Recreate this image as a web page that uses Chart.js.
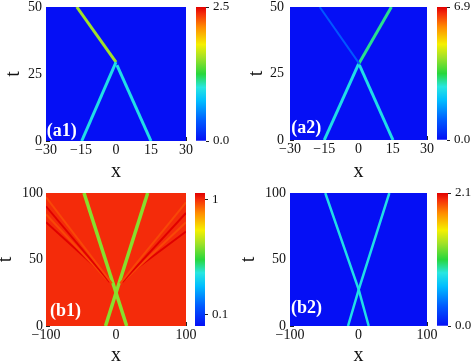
<!DOCTYPE html>
<html>
<head>
<meta charset="utf-8">
<script src="https://cdn.jsdelivr.net/npm/chart.js@4/dist/chart.umd.min.js"></script>
<style>
body { margin: 0; background: #fff; }
#wrap { position: relative; width: 474px; height: 361px; overflow: hidden; }
canvas { position: absolute; }
</style>
</head>
<body>
<div id="wrap">
  <canvas id="a1" width="200" height="180" style="left:0px;top:0px"></canvas>
  <canvas id="a1bar" width="40" height="180" style="left:196px;top:0px"></canvas>
  <canvas id="a2" width="205" height="180" style="left:237px;top:0px"></canvas>
  <canvas id="a2bar" width="37" height="180" style="left:437px;top:0px"></canvas>
  <canvas id="b1" width="200" height="181" style="left:0px;top:180px"></canvas>
  <canvas id="b1bar" width="40" height="181" style="left:195px;top:180px"></canvas>
  <canvas id="b2" width="205" height="181" style="left:237px;top:180px"></canvas>
  <canvas id="b2bar" width="37" height="181" style="left:437px;top:180px"></canvas>
</div>
<script>
// axes
const aXMajor = [-30, -15, 0, 15, 30];
const aXMinor = [-22.5, -7.5, 7.5, 22.5];
const aTMajor = [0, 25, 50];
const aTMinor = [12.5, 37.5];
const bXMajor = [-100, 0, 100];
const bXMinor = [-50, 50];
const bTMajor = [0, 50, 100];
const bTMinor = [25, 75];

// colour bar ranges and labels
const a1Range = [0, 2.5];
const a2Range = [0, 6.9];
const b1Range = [0.01, 1.05];
const b2Range = [0, 2.1];
const a1BarTicks = [0, 2.5];
const a2BarTicks = [0, 6.9];
const b1BarTicks = [0.1, 1];
const b2BarTicks = [0, 2.1];
const a1BarLabels = ['0.0', '2.5'];
const a2BarLabels = ['0.0', '6.9'];
const b1BarLabels = ['0.1', '1'];
const b2BarLabels = ['0.0', '2.1'];

// background level of each map
const a1Back = 0;
const a2Back = 0;
const b1Back = 1;
const b2Back = 0;

// ridges: x and t along each crest, and its height
const a1RidgeX = [[-14.7, 0], [15, 0.4], [0, -16.8]];
const a1RidgeT = [[0, 29.4], [0, 28.3], [29.4, 50]];
const a1RidgeV = [0.95, 0.95, 1.55];

const a2RidgeX = [[0.4, -17], [-15, 0], [15.1, 0.4], [0, 14.4]];
const a2RidgeT = [[28.6, 50], [0, 28.5], [0, 28.2], [28.5, 50]];
const a2RidgeV = [1.0, 2.6, 2.6, 3.1];

const b1RidgeX = [[-6, -100], [-9, -100], [-13, -100], [-16, -100], [6, 100], [9, 100], [13, 100], [16, 100], [-15, 45.3], [15.3, -45.7]];
const b1RidgeT = [[32, 97], [33, 90], [35, 84], [38, 78], [32, 93], [33, 85], [35, 78], [38, 71], [0, 100], [0, 100]];
const b1RidgeV = [0.97, 1.05, 0.97, 1.05, 0.97, 1.05, 0.97, 1.05, 0.63, 0.63];

const b2RidgeX = [[-15.3, 0.3, 45], [14.9, 0.3, -48.5]];
const b2RidgeT = [[0, 27.3, 100], [0, 27.3, 100]];
const b2RidgeV = [0.8, 0.8];

const serif = '"Liberation Serif", "Times New Roman", serif';
Chart.defaults.font.family = serif;

const cmapStops = [0, 0.15, 0.3, 0.4, 0.5, 0.62, 0.72, 0.85, 0.95, 1];
const cmapColors = [[5,15,245],[0,90,255],[0,190,255],[40,230,225],[40,215,60],[160,225,40],[245,240,0],[255,140,0],[245,45,10],[225,0,0]];

function cmap(f) {
  f = Math.max(0, Math.min(1, f));
  for (let i = 1; i < cmapStops.length; i++) {
    if (f <= cmapStops[i]) {
      const k = (f - cmapStops[i-1]) / (cmapStops[i] - cmapStops[i-1]);
      const a = cmapColors[i-1], b = cmapColors[i];
      return 'rgb(' + a.map((c, j) => Math.round(c + (b[j] - c) * k)).join(',') + ')';
    }
  }
  return 'rgb(' + cmapColors[cmapColors.length-1].join(',') + ')';
}

function norm(v, range) {
  return (v - range[0]) / (range[1] - range[0]);
}

function fmt(v) {
  return v < 0 ? '\u2212' + Math.abs(v) : String(v);
}

function noPad(s) {
  s.paddingLeft = 0; s.paddingRight = 0; s.paddingTop = 0; s.paddingBottom = 0;
}

const heatBg = {
  id: 'heatBg',
  beforeDatasetsDraw(chart, args, opts) {
    const a = chart.chartArea;
    chart.ctx.save();
    chart.ctx.fillStyle = opts.color;
    chart.ctx.fillRect(a.left, a.top, a.right - a.left, a.bottom - a.top);
    chart.ctx.restore();
  }
};

const panelTag = {
  id: 'panelTag',
  afterDatasetsDraw(chart, args, opts) {
    const a = chart.chartArea, ctx = chart.ctx;
    ctx.save();
    ctx.font = 'bold 18px ' + serif;
    ctx.fillStyle = '#fff';
    ctx.textBaseline = 'alphabetic';
    ctx.fillText(opts.text, a.left + opts.dx, a.bottom - opts.dy);
    ctx.restore();
  }
};

function axisOpts(min, max, major, minor, title, size, tickPad, titlePad) {
  const all = major.concat(minor).sort((p, q) => p - q);
  return {
    type: 'linear', min: min, max: max,
    afterBuildTicks: s => { s.ticks = all.map(v => ({value: v})); },
    afterFit: s => {
      if (s.isHorizontal()) s.height = size; else s.width = size;
      noPad(s);
    },
    border: {display: false},
    grid: {drawOnChartArea: false, drawTicks: true, tickLength: -4, color: '#222', lineWidth: 1},
    ticks: {
      autoSkip: false, maxRotation: 0, padding: tickPad, color: '#111',
      font: {family: serif, size: 14},
      callback: v => major.includes(v) ? fmt(v) : ''
    },
    title: {
      display: true, text: title, color: '#111',
      font: {family: serif, size: 20, lineHeight: 0.5}, padding: titlePad
    }
  };
}

function heatPanel(id, p) {
  const datasets = p.ridgeX.map((xs, i) => ({
    data: xs.map((x, j) => ({x: x, y: p.ridgeT[i][j]})),
    borderColor: cmap(norm(p.ridgeV[i], p.range)),
    borderWidth: p.widths[i],
    showLine: true, pointRadius: 0, tension: 0, clip: 0
  }));
  return new Chart(document.getElementById(id), {
    type: 'scatter',
    data: {datasets: datasets},
    options: {
      responsive: false, animation: false, events: [],
      layout: {padding: {top: p.top, right: p.right, left: 0, bottom: 0}},
      plugins: {
        legend: {display: false}, tooltip: {enabled: false},
        heatBg: {color: cmap(norm(p.back, p.range))},
        panelTag: p.tag
      },
      scales: {
        x: axisOpts(p.xMajor[0], p.xMajor[p.xMajor.length-1], p.xMajor, p.xMinor, 'x', p.xH, 5, {top: 0, bottom: p.xTitlePad}),
        y: axisOpts(p.tMajor[0], p.tMajor[p.tMajor.length-1], p.tMajor, p.tMinor, 't', p.yW, p.yTickPad, {top: p.yTitlePad, bottom: 0})
      }
    },
    plugins: [heatBg, panelTag]
  });
}

function colorBar(id, p) {
  return new Chart(document.getElementById(id), {
    type: 'bar',
    data: {
      labels: [''],
      datasets: [{
        data: [[p.range[0], p.range[1]]],
        backgroundColor: ctx => {
          const a = ctx.chart.chartArea;
          if (!a) return null;
          const g = ctx.chart.ctx.createLinearGradient(0, a.bottom, 0, a.top);
          cmapStops.forEach((s, i) => g.addColorStop(s, 'rgb(' + cmapColors[i].join(',') + ')'));
          return g;
        },
        barPercentage: 1, categoryPercentage: 1, borderWidth: 0
      }]
    },
    options: {
      responsive: false, animation: false, events: [],
      layout: {padding: {top: p.top, bottom: p.bottom, left: 0, right: 0}},
      plugins: {legend: {display: false}, tooltip: {enabled: false}},
      scales: {
        x: {display: false},
        y: {
          position: 'right', min: p.range[0], max: p.range[1],
          afterBuildTicks: s => { s.ticks = p.ticks.map(v => ({value: v})); },
          afterFit: s => { s.width = p.axisW; noPad(s); },
          border: {display: false},
          grid: {drawOnChartArea: false, tickLength: 3, color: '#222'},
          ticks: {padding: 4, color: '#111', font: {family: serif, size: 13},
            callback: (v, i) => p.labels[i]}
        }
      }
    }
  });
}

heatPanel('a1', {ridgeX: a1RidgeX, ridgeT: a1RidgeT, ridgeV: a1RidgeV, widths: [3, 3, 3],
  range: a1Range, back: a1Back, xMajor: aXMajor, xMinor: aXMinor, tMajor: aTMajor, tMinor: aTMinor,
  top: 7, right: 14, xH: 39, yW: 46, yTickPad: 8, xTitlePad: 3.5, yTitlePad: 8.8,
  tag: {text: '(a1)', dx: 0.7, dy: 5}});
heatPanel('a2', {ridgeX: a2RidgeX, ridgeT: a2RidgeT, ridgeV: a2RidgeV, widths: [2, 3, 3, 3],
  range: a2Range, back: a2Back, xMajor: aXMajor, xMinor: aXMinor, tMajor: aTMajor, tMinor: aTMinor,
  top: 7, right: 15, xH: 40, yW: 53, yTickPad: 10, xTitlePad: 3.5, yTitlePad: 14.5,
  tag: {text: '(a2)', dx: 1.3, dy: 7}});
heatPanel('b1', {ridgeX: b1RidgeX, ridgeT: b1RidgeT, ridgeV: b1RidgeV, widths: [2, 2, 2, 2, 2, 2, 2, 2, 3.5, 3.5],
  range: b1Range, back: b1Back, xMajor: bXMajor, xMinor: bXMinor, tMajor: bTMajor, tMinor: bTMinor,
  top: 13, right: 14, xH: 35, yW: 46, yTickPad: 7, xTitlePad: 0, yTitlePad: 0.5,
  tag: {text: '(b1)', dx: 4, dy: 10}});
heatPanel('b2', {ridgeX: b2RidgeX, ridgeT: b2RidgeT, ridgeV: b2RidgeV, widths: [2.5, 2.5],
  range: b2Range, back: b2Back, xMajor: bXMajor, xMinor: bXMinor, tMajor: bTMajor, tMinor: bTMinor,
  top: 13, right: 15, xH: 35, yW: 53, yTickPad: 8, xTitlePad: 0, yTitlePad: 6.7,
  tag: {text: '(b2)', dx: 1, dy: 13}});

colorBar('a1bar', {range: a1Range, ticks: a1BarTicks, labels: a1BarLabels, top: 7, bottom: 39, axisW: 30});
colorBar('a2bar', {range: a2Range, ticks: a2BarTicks, labels: a2BarLabels, top: 7, bottom: 40, axisW: 27});
colorBar('b1bar', {range: b1Range, ticks: b1BarTicks, labels: b1BarLabels, top: 13, bottom: 35, axisW: 30});
colorBar('b2bar', {range: b2Range, ticks: b2BarTicks, labels: b2BarLabels, top: 13, bottom: 35, axisW: 26});
</script>
</body>
</html>
